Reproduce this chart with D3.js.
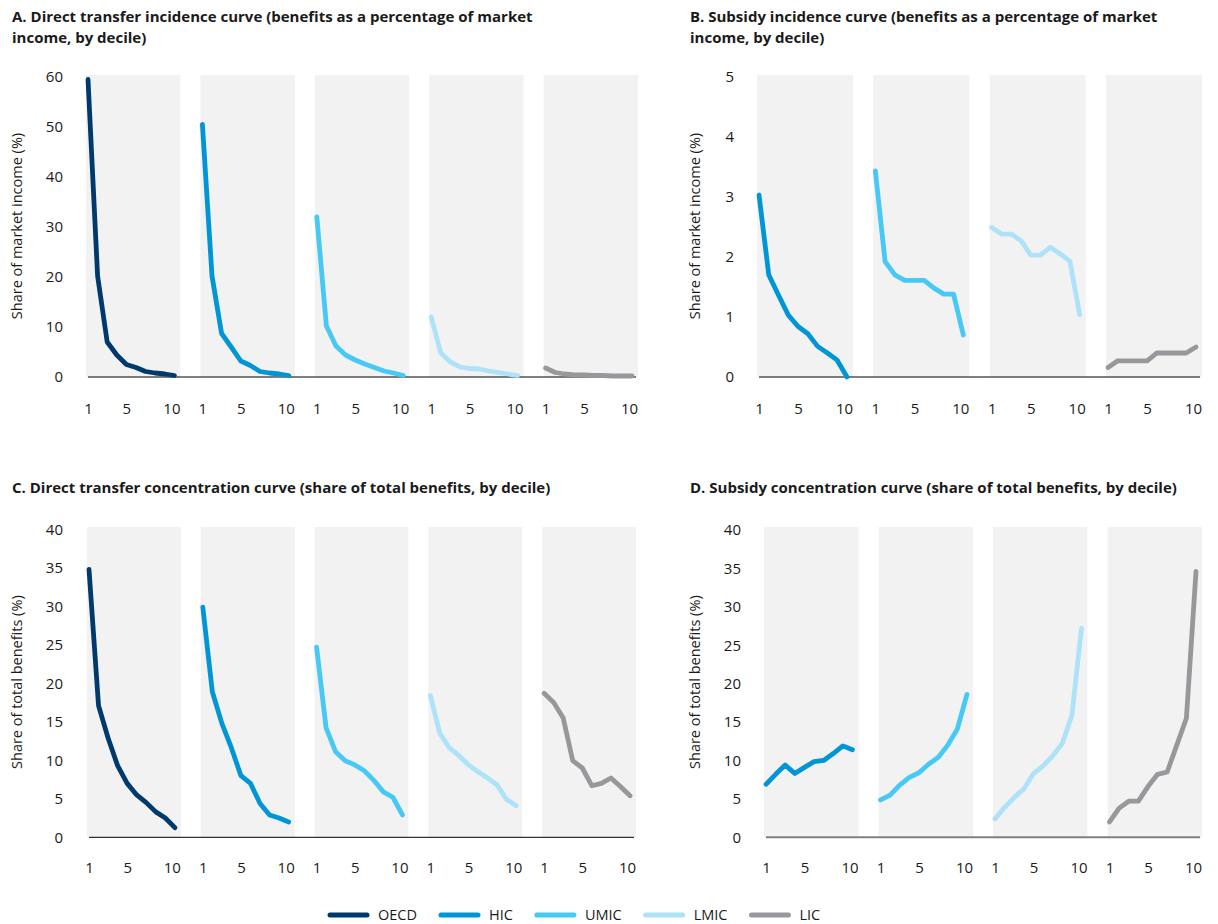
<!DOCTYPE html>
<html>
<head>
<meta charset="utf-8">
<script src="https://cdn.jsdelivr.net/npm/d3@7/dist/d3.min.js"></script>
<style>
  html, body { margin: 0; padding: 0; background: #fff; }
  svg { display: block; font-family: "Open Sans", "Noto Sans", sans-serif; }
</style>
</head>
<body>
<svg id="chart" width="1218" height="924"></svg>
<script>
// ---------------- DATA ----------------
const deciles = [1, 2, 3, 4, 5, 6, 7, 8, 9, 10];
const xTickValues = [1, 5, 10];
const groupsAC = ["OECD", "HIC", "UMIC", "LMIC", "LIC"];
const groupsBD = ["HIC", "UMIC", "LMIC", "LIC"];
const groupColors = ["#003a6c", "#0096d6", "#48c9f5", "#aee2f9", "#98989c"];

// A. Direct transfer incidence (% of market income)
const aOECD = [59.5, 20.2, 7.0, 4.4, 2.5, 1.9, 1.1, 0.8, 0.6, 0.3];
const aHIC  = [50.5, 20.2, 8.7, 6.0, 3.2, 2.3, 1.1, 0.8, 0.6, 0.3];
const aUMIC = [32.0, 10.2, 6.2, 4.4, 3.4, 2.6, 1.9, 1.2, 0.8, 0.3];
const aLMIC = [12.0, 4.8, 3.0, 2.0, 1.7, 1.6, 1.2, 0.9, 0.6, 0.3];
const aLIC  = [1.8, 0.9, 0.6, 0.4, 0.4, 0.3, 0.3, 0.2, 0.2, 0.2];
const aTicks = [0, 10, 20, 30, 40, 50, 60];

// B. Subsidy incidence (% of market income)
const bHIC  = [3.03, 1.70, 1.36, 1.03, 0.84, 0.72, 0.51, 0.40, 0.28, 0.0];
const bUMIC = [3.43, 1.92, 1.70, 1.61, 1.61, 1.61, 1.48, 1.38, 1.38, 0.70];
const bLMIC = [2.49, 2.38, 2.38, 2.27, 2.03, 2.03, 2.16, 2.05, 1.93, 1.04];
const bLIC  = [0.16, 0.27, 0.27, 0.27, 0.27, 0.40, 0.40, 0.40, 0.40, 0.50];
const bTicks = [0, 1, 2, 3, 4, 5];

// C. Direct transfer concentration (share of total benefits)
const cOECD = [34.8, 17.1, 12.9, 9.3, 7.0, 5.5, 4.5, 3.3, 2.5, 1.25];
const cHIC  = [29.9, 18.9, 14.8, 11.6, 8.0, 7.0, 4.4, 2.9, 2.5, 2.0];
const cUMIC = [24.7, 14.2, 11.1, 9.95, 9.4, 8.65, 7.4, 5.9, 5.2, 2.9];
const cLMIC = [18.4, 13.5, 11.6, 10.6, 9.4, 8.5, 7.7, 6.8, 4.9, 4.1];
const cLIC  = [18.7, 17.5, 15.5, 9.95, 9.0, 6.7, 7.0, 7.7, 6.6, 5.4];
const cTicks = [0, 5, 10, 15, 20, 25, 30, 35, 40];

// D. Subsidy concentration (share of total benefits)
const dHIC  = [6.9, 8.2, 9.4, 8.3, 9.1, 9.85, 10.0, 10.9, 11.9, 11.4];
const dUMIC = [4.86, 5.5, 6.8, 7.8, 8.4, 9.5, 10.4, 12.0, 14.1, 18.6];
const dLMIC = [2.4, 3.9, 5.2, 6.3, 8.3, 9.3, 10.6, 12.2, 15.9, 27.2];
const dLIC  = [2.0, 3.8, 4.7, 4.7, 6.6, 8.2, 8.5, 12.0, 15.5, 34.6];
const dTicks = [0, 5, 10, 15, 20, 25, 30, 35, 40];

// ---------------- LAYOUT ----------------
const color = d3.scaleOrdinal().domain(groupsAC).range(groupColors);
const svg = d3.select("#chart");
const textColor = "#1a1a1a";
const fmt = d3.format("d");

const panels = [
  { title: ["A. Direct transfer incidence curve (benefits as a percentage of market", "income, by decile)"],
    tx: 12, ty: 22, yLabel: "Share of market income (%)", yLabelX: 17,
    ticks: aTicks, yRange: [377, 77], band: [86, 638], groups: groupsAC,
    series: [aOECD, aHIC, aUMIC, aLMIC, aLIC], tickRight: 63, grayTop: 75,
    xLabelY: 403, baseColor: "#000", baseW: 1 },
  { title: ["B. Subsidy incidence curve (benefits as a percentage of market", "income, by decile)"],
    tx: 690, ty: 22, yLabel: "Share of market income (%)", yLabelX: 695,
    ticks: bTicks, yRange: [377, 76.7], band: [757, 1202], groups: groupsBD,
    series: [bHIC, bUMIC, bLMIC, bLIC], tickRight: 734, grayTop: 75,
    xLabelY: 403, baseColor: "#000", baseW: 1 },
  { title: ["C. Direct transfer concentration curve (share of total benefits, by decile)"],
    tx: 12, ty: 493, yLabel: "Share of total benefits (%)", yLabelX: 17,
    ticks: cTicks, yRange: [837.3, 529.3], band: [87, 636], groups: groupsAC,
    series: [cOECD, cHIC, cUMIC, cLMIC, cLIC], tickRight: 63, grayTop: 527,
    xLabelY: 862, baseColor: "#000", baseW: 1 },
  { title: ["D. Subsidy concentration curve (share of total benefits, by decile)"],
    tx: 690, ty: 493, yLabel: "Share of total benefits (%)", yLabelX: 695,
    ticks: dTicks, yRange: [837.3, 530], band: [764, 1202], groups: groupsBD,
    series: [dHIC, dUMIC, dLMIC, dLIC], tickRight: 741, grayTop: 527,
    xLabelY: 862, baseColor: "#808080", baseW: 2 }
];

panels.forEach(p => {
  const g = svg.append("g");
  const y = d3.scaleLinear().domain([0, d3.max(p.ticks)]).range(p.yRange);
  const band = d3.scaleBand().domain(p.groups).range(p.band).paddingInner(0.175).paddingOuter(0);
  const bw = band.bandwidth();

  // Title
  const t = g.append("text").attr("x", p.tx).attr("y", p.ty)
    .attr("font-size", 15).attr("font-weight", 700).attr("fill", textColor);
  p.title.forEach((line, i) => {
    t.append("tspan").attr("x", p.tx).attr("dy", i === 0 ? 0 : 21).text(line);
  });

  // Gray backgrounds
  p.groups.forEach(k => {
    g.append("rect").attr("x", band(k)).attr("y", p.grayTop)
      .attr("width", bw).attr("height", y(0) - p.grayTop).attr("fill", "#f2f2f2");
  });

  // Y axis
  const yAxis = d3.axisLeft(y).tickValues(p.ticks).tickSize(0).tickPadding(0).tickFormat(fmt);
  const ya = g.append("g").attr("transform", `translate(${p.tickRight},0)`).call(yAxis);
  ya.select(".domain").remove();
  ya.selectAll("text").attr("font-size", 15).attr("fill", textColor)
    .attr("font-family", "'Open Sans', sans-serif");

  // Y label
  g.append("text")
    .attr("transform", `translate(${p.yLabelX},${(y(0) + p.grayTop) / 2}) rotate(-90)`)
    .attr("text-anchor", "middle").attr("dy", "0.35em")
    .attr("font-size", 14.5).attr("fill", textColor).text(p.yLabel);

  // Baseline
  const firstX = d3.scaleLinear().domain([1, 10]).range([band(p.groups[0]) + 2, band(p.groups[0]) + bw - 6]);
  const lastK = p.groups[p.groups.length - 1];
  g.append("line").attr("x1", firstX(1)).attr("x2", band(lastK) + bw - 2)
    .attr("y1", y(0)).attr("y2", y(0))
    .attr("stroke", p.baseColor).attr("stroke-width", p.baseW);

  // Lines & x axes
  p.groups.forEach((k, i) => {
    const x = d3.scaleLinear().domain([1, 10]).range([band(k) + 2, band(k) + bw - 6]);
    const vals = p.series[i];
    const line = d3.line().x((d, j) => x(deciles[j])).y(d => y(d));
    g.append("path").datum(vals).attr("d", line)
      .attr("fill", "none").attr("stroke", color(k)).attr("stroke-width", 4.8)
      .attr("stroke-linecap", "round").attr("stroke-linejoin", "round");

    const xa = g.append("g").attr("transform", `translate(0,${p.xLabelY})`)
      .call(d3.axisBottom(x).tickValues(xTickValues).tickSize(0).tickPadding(0).tickFormat(fmt));
    xa.select(".domain").remove();
    xa.selectAll("text").attr("font-size", 15).attr("fill", textColor)
      .attr("font-family", "'Open Sans', sans-serif")
      .attr("dx", d => d === 10 ? -3 : 0);
  });
});

// Legend
const legend = svg.append("g").attr("transform", "translate(0,915)");
let lx = 330;
groupsAC.forEach(k => {
  legend.append("line").attr("x1", lx).attr("x2", lx + 37).attr("y1", 0).attr("y2", 0)
    .attr("stroke", color(k)).attr("stroke-width", 5).attr("stroke-linecap", "round");
  const tx = legend.append("text").attr("x", lx + 48).attr("y", 0).attr("dy", "0.35em")
    .attr("font-size", 14.5).attr("fill", textColor).text(k);
  lx = lx + 48 + tx.node().getComputedTextLength() + 24;
});
</script>
</body>
</html>
